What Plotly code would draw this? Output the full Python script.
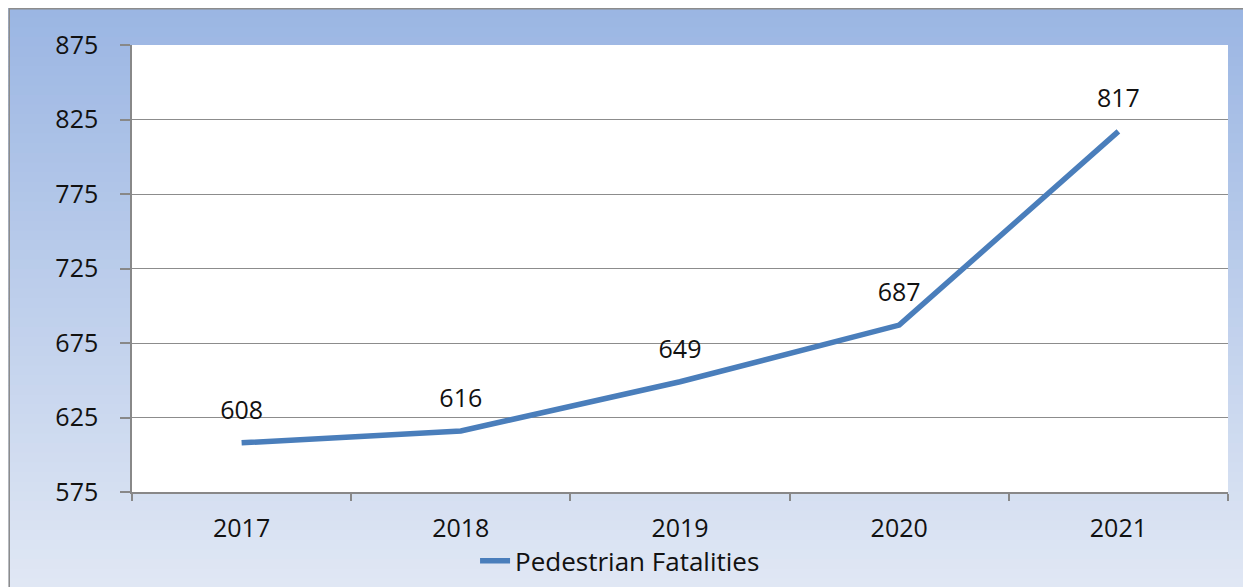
import plotly.graph_objects as go

years = ["2017", "2018", "2019", "2020", "2021"]
fatalities = [608, 616, 649, 687, 817]
series_name = "Pedestrian Fatalities"

FONT = "Open Sans"
LINE_COLOR = "#4a7ebb"
TEXT = "#111111"

fig = go.Figure()
fig.add_trace(go.Scatter(
    x=years, y=fatalities, mode="lines", name=series_name,
    line=dict(color=LINE_COLOR, width=5.5),
))
# value labels: invisible big markers push the text up above each point
fig.add_trace(go.Scatter(
    x=years, y=fatalities, mode="markers+text", showlegend=False,
    text=[str(v) for v in fatalities], textposition="top center",
    textfont=dict(family=FONT, size=25, color=TEXT),
    marker=dict(size=27, opacity=0), hoverinfo="skip",
))

# gradient background of the chart area (top blue -> pale bottom)
top = (155, 182, 227)
bot = (224, 231, 244)
y_top, y_bot = 1.083, -0.215
n = 60
shapes = []
for i in range(n):
    t = i / (n - 1)
    c = tuple(round(top[k] + (bot[k] - top[k]) * t) for k in range(3))
    y0 = y_top - (y_top - y_bot) * i / n
    y1 = y_top - (y_top - y_bot) * (i + 1) / n
    shapes.append(dict(type="rect", xref="paper", yref="paper", layer="below",
                       x0=-0.113, x1=1.03, y0=y1 - 0.002, y1=y0,
                       fillcolor="rgb(%d,%d,%d)" % c, line=dict(width=0)))
# plot area white box
shapes.append(dict(type="rect", xref="paper", yref="paper", layer="below",
                   x0=0, x1=1, y0=0, y1=1, fillcolor="white", line=dict(width=0)))
# outer chart border
shapes.append(dict(type="rect", xref="paper", yref="paper", layer="above",
                   x0=-0.112, x1=1.03, y0=-0.3, y1=1.081,
                   fillcolor="rgba(0,0,0,0)", line=dict(color="#8c8c8c", width=1.5)))

# page body has an 8px margin, so the figure is sized/offset to compensate
fig.update_layout(
    width=1243, height=579,
    paper_bgcolor="white",
    plot_bgcolor="rgba(0,0,0,0)",
    margin=dict(l=124, r=23, t=37, b=95, autoexpand=False),
    shapes=shapes,
    showlegend=True,
    legend=dict(orientation="h", x=0.313, xanchor="left", y=-0.154, yanchor="middle",
                bgcolor="rgba(0,0,0,0)", font=dict(family=FONT, size=26, color=TEXT)),
    font=dict(family=FONT, size=25, color=TEXT),
)
fig.update_xaxes(
    type="category", range=[-0.5, 4.5],
    showline=True, linecolor="#888888", linewidth=1.5,
    ticks="outside", tickson="boundaries", ticklen=7, tickcolor="#888888", tickwidth=1.5,
    showgrid=False, ticklabelstandoff=13,
    tickfont=dict(family=FONT, size=25, color=TEXT),
)
fig.update_yaxes(
    range=[575, 875], dtick=50, tick0=575,
    showline=True, linecolor="#888888", linewidth=1.5,
    ticks="outside", ticklen=10, tickcolor="#888888", tickwidth=1.5,
    showgrid=True, gridcolor="#8c8c8c", gridwidth=1, zeroline=False,
    ticklabelstandoff=17,
    tickfont=dict(family=FONT, size=25, color=TEXT),
)

fig.write_html("out.html")
